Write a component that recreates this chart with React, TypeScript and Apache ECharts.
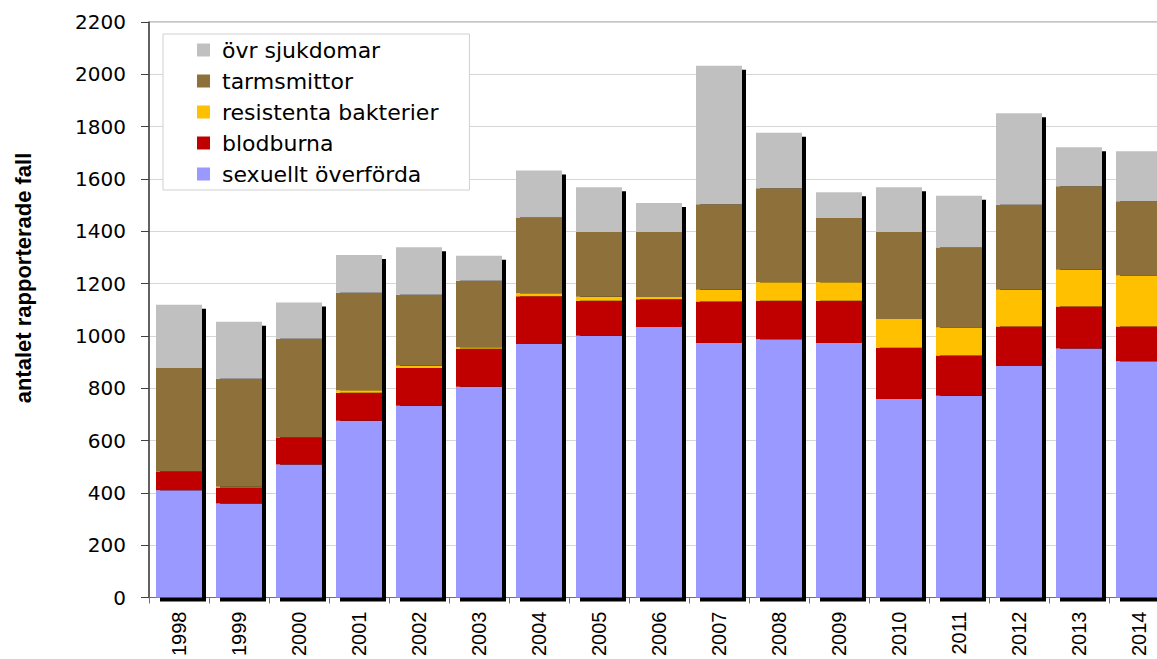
import React, { useEffect, useRef } from "react";
import * as echarts from "echarts";

const years = ["1998","1999","2000","2001","2002","2003","2004","2005","2006","2007","2008","2009","2010","2011","2012","2013","2014"];
const sexuellt = [410, 359, 508, 676, 733, 806, 969, 1001, 1034, 973, 987, 973, 759, 771, 885, 952, 903];
const blodburna = [72, 62, 104, 107, 144, 145, 183, 133, 106, 159, 147, 161, 196, 154, 151, 160, 133];
const resistenta = [0, 2, 0, 9, 9, 6, 11, 16, 9, 44, 71, 71, 110, 107, 140, 141, 195];
const tarmsmittor = [395, 413, 377, 373, 271, 254, 290, 247, 248, 327, 359, 246, 332, 306, 325, 319, 284];
const ovrigt = [242, 218, 139, 144, 182, 95, 179, 171, 111, 530, 213, 98, 171, 198, 350, 149, 191];
const yTicks = { min: 0, max: 2200, interval: 200 };

const seriesDefs = [
  { name: "sexuellt överförda", data: sexuellt, color: "#9999FF" },
  { name: "blodburna", data: blodburna, color: "#C00000" },
  { name: "resistenta bakterier", data: resistenta, color: "#FFC000" },
  { name: "tarmsmittor", data: tarmsmittor, color: "#8D703A" },
  { name: "övr sjukdomar", data: ovrigt, color: "#C0C0C0" },
];

export default function App() {
  const ref = useRef<HTMLDivElement>(null);
  useEffect(() => {
    if (!ref.current) return;
    const chart = echarts.init(ref.current, undefined, { renderer: "svg" });
    const totals = years.map((_, i) => seriesDefs.reduce((s, d) => s + d.data[i], 0));
    const barW = 46;
    chart.setOption({
      animation: false,
      backgroundColor: "#ffffff",
      grid: {
        left: 149, top: 22, width: 1020, height: 576,
        show: true, borderColor: "#8c8c8c", borderWidth: 1, backgroundColor: "transparent",
      },
      legend: {
        left: 163, top: 34, orient: "vertical",
        data: ["övr sjukdomar", "tarmsmittor", "resistenta bakterier", "blodburna", "sexuellt överförda"],
        icon: "rect", itemWidth: 13, itemHeight: 13, itemGap: 9,
        padding: [5, 31, 5, 34],
        backgroundColor: "#ffffff", borderColor: "#d0d0d0", borderWidth: 1,
        textStyle: { fontFamily: "DejaVu Sans", fontSize: 22, color: "#000", padding: [0, 0, 0, 7] },
      },
      graphic: [{
        type: "text", x: 23, y: 278, rotation: Math.PI / 2,
        style: {
          text: "antalet rapporterade fall", fontFamily: "Liberation Sans", fontWeight: "bold",
          fontSize: 22, fill: "#000", align: "center", verticalAlign: "middle",
        },
      }],
      xAxis: {
        type: "category", data: years, boundaryGap: true,
        axisLine: { show: true, lineStyle: { color: "#6e6e6e", width: 1 } },
        axisTick: { show: true, length: 6, lineStyle: { color: "#6e6e6e" } },
        axisLabel: { rotate: 90, margin: 14, fontFamily: "Liberation Sans", fontSize: 20, color: "#000" },
        splitLine: { show: false },
      },
      yAxis: {
        type: "value", min: yTicks.min, max: yTicks.max, interval: yTicks.interval,
        axisLine: { show: true, lineStyle: { color: "#404040", width: 1.5 } },
        axisTick: { show: true, length: 8, lineStyle: { color: "#404040" } },
        axisLabel: {
          margin: 23, fontFamily: "DejaVu Sans", fontSize: 20, color: "#000",
          formatter: (v: number) => String(v),
        },
        splitLine: { show: true, lineStyle: { color: "#d6d6d6", width: 1 } },
      },
      series: [
        {
          type: "custom", name: "shadow", z: 1, silent: true,
          data: years.map((_, i) => [i, totals[i]]),
          encode: { x: 0, y: 1 },
          renderItem: (params: any, api: any) => {
            const idx = api.value(0);
            const top = api.coord([idx, api.value(1)]);
            const base = api.coord([idx, 0]);
            return {
              type: "rect",
              shape: { x: top[0] - barW / 2 + 4, y: top[1] + 4, width: barW, height: base[1] - top[1] },
              style: { fill: "#000000" },
            };
          },
        },
        ...seriesDefs.map((d) => ({
          type: "bar", name: d.name, stack: "total", data: d.data, barWidth: barW, z: 2,
          itemStyle: { color: d.color },
        })),
      ],
    });
    return () => chart.dispose();
  }, []);
  return (
    <div style={{ position: "fixed", left: 0, top: 0, width: 1157, height: 659, overflow: "hidden", background: "#fff" }}>
      <div ref={ref} style={{ width: 1190, height: 659 }} />
    </div>
  );
}
